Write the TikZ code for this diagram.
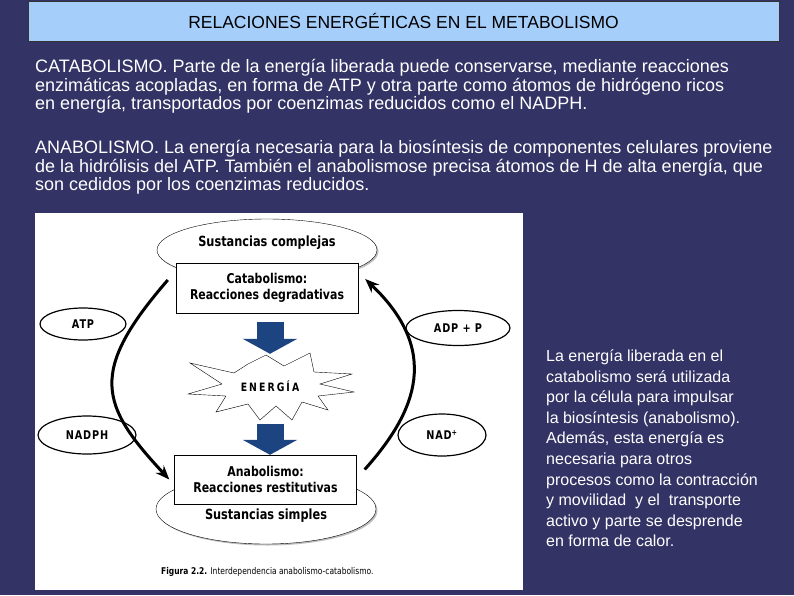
\documentclass[tikz,border=0pt]{standalone}
\usepackage{fontspec}
\setmainfont{Liberation Sans}
\newfontfamily\figfont[FakeStretch=0.81]{DejaVu Sans}
\usepackage{tikz}
\usetikzlibrary{shapes.geometric,arrows.meta,shadows,positioning}
\definecolor{slidebg}{RGB}{51,51,102}
\definecolor{titleblue}{RGB}{166,206,250}
\definecolor{fatblue}{RGB}{28,68,128}

\begin{document}
\begin{tikzpicture}[x=1pt,y=-1pt]
    \tikzstyle{titlebox} = [draw=black!80, fill=titleblue, minimum width=751pt, minimum height=40pt, inner sep=0pt, font=\fontsize{17.5}{19}\selectfont]
    \tikzstyle{txt} = [anchor=base west, inner sep=0pt, text=white, font=\fontsize{18}{20}\selectfont]
    \tikzstyle{note} = [anchor=base west, inner sep=0pt, text=white, font=\fontsize{16}{18}\selectfont]
    \tikzstyle{bigoval} = [ellipse, draw, fill=white, minimum width=220pt, minimum height=62pt, drop shadow={shadow xshift=1.5pt, shadow yshift=-1.5pt, fill=black!50}]
    \tikzstyle{smalloval} = [ellipse, draw, line width=1.2pt, inner sep=0pt, font=\figfont\bfseries\fontsize{12}{14}\selectfont\addfontfeature{LetterSpace=7}]
    \tikzstyle{reacbox} = [draw, fill=white, minimum width=182pt, minimum height=50pt, inner sep=0pt, align=center, font=\figfont\bfseries\fontsize{13.5}{16}\selectfont]
    \tikzstyle{figlabel} = [inner sep=0pt, font=\figfont\bfseries\fontsize{14}{16}\selectfont]
    \tikzstyle{fatarrow} = [fatblue, line width=27pt, -{Triangle[width=54pt,length=15pt]}]
    \tikzstyle{loopline} = [line width=3pt, -{Stealth[length=14pt,width=11pt]}]

    % slide
    \fill[slidebg] (0,0) rectangle (794,595);
    \useasboundingbox (0,0) rectangle (794,595);
    \node[titlebox] (title) at (403.5,21) {RELACIONES ENERGÉTICAS EN EL METABOLISMO};

    \foreach \t [count=\i] in {{CATABOLISMO. Parte de la energía liberada puede conservarse, mediante reacciones},
        {enzimáticas acopladas, en forma de ATP y otra parte como átomos de hidrógeno ricos},
        {en energía, transportados por coenzimas reducidos como el NADPH.}}
        \node[txt] (catline\i) at (35, 54.5+18.3*\i) {\t};
    \foreach \t [count=\i] in {{ANABOLISMO. La energía necesaria para la biosíntesis de componentes celulares proviene},
        {de la hidrólisis del ATP. También el anabolismose precisa átomos de H de alta energía, que},
        {son cedidos por los coenzimas reducidos.}}
        \node[txt] (anaLine\i) at (35, 135.2+18.4*\i) {\t};
    \foreach \t [count=\i] in {{La energía liberada en el}, {catabolismo será utilizada}, {por la célula para impulsar},
        {la biosíntesis (anabolismo).}, {Además, esta energía es}, {necesaria para otros},
        {procesos como la contracción}, {y movilidad\ \ y el\ \ transporte}, {activo y parte se desprende},
        {en forma de calor.}}
        \node[note] (note\i) at (546, 341.15+20.55*\i) {\t};

    % figure
    \fill[white] (35,213) rectangle (523,590);
    \node[bigoval] (complejas) at (267,250) {};
    \node[figlabel] (complejasTxt) at (267,243) {Sustancias complejas};
    \node[bigoval, minimum height=70pt] (simples) at (266,509) {};
    \node[figlabel] (simplesTxt) at (266,516) {Sustancias simples};
    \node[reacbox] (catab) at (267,288) {Catabolismo:\\Reacciones degradativas};
    \node[reacbox, minimum height=49pt] (anab) at (265.5,479.5) {Anabolismo:\\Reacciones restitutivas};

    \node[minimum width=160pt, minimum height=64pt, inner sep=0pt, font=\figfont\bfseries\fontsize{11.5}{13}\selectfont\addfontfeature{LetterSpace=18}] (energia) at (270,386) {ENERGÍA};
    \draw[thin, shift={(energia.center)}] (-80,-23) -- (-36,-13) -- (-22,-22) -- (-4,-31) -- (14,-20) -- (40,-33) -- (44,-14)
        -- (82,-12) -- (50,-2) -- (84,6) -- (48,10) -- (58,24) -- (32,16) -- (22,34) -- (6,20) -- (-10,34)
        -- (-22,18) -- (-54,26) -- (-44,10) -- (-82,8) -- (-48,-2) -- cycle;
    \draw[fatarrow, shorten <=9pt] (energia.north |- catab.south) -- (energia.north);
    \draw[fatarrow, shorten <=6pt] (energia.south) -- (energia.south |- anab.north);

    \node[smalloval, minimum width=86pt, minimum height=32pt] (atp) at (83,324) {ATP};
    \node[smalloval, minimum width=98pt, minimum height=38pt] (nadph) at (87,435) {NADPH};
    \node[smalloval, minimum width=104pt, minimum height=35pt] (adp) at (458,328) {ADP + P};
    \node[smalloval, minimum width=88pt, minimum height=42pt] (nad) at (442,435) {NAD\textsuperscript{+}};

    \draw[loopline] ([xshift=-8pt,yshift=8pt]catab.west) .. controls (88,372) and (100,405) .. ([xshift=-5pt]anab.west);
    \draw[loopline] ([xshift=8pt,yshift=10pt]anab.east) .. controls (418,410) and (440,350) .. ([xshift=7pt,yshift=9pt]catab.east);

    \node[anchor=base west, inner sep=0pt, font=\figfont\fontsize{9.3}{11}\selectfont] (caption) at (161,574) {\textbf{Figura 2.2.} Interdependencia anabolismo-catabolismo.};
\end{tikzpicture}
\end{document}
